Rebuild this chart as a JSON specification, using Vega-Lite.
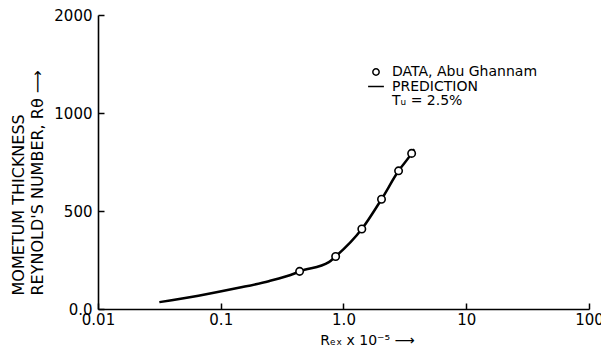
{
  "$schema": "https://vega.github.io/schema/vega-lite/v6.json",
  "width": 491,
  "height": 294,
  "autosize": {"type": "none"},
  "padding": {"left": 98, "top": 15, "right": 12, "bottom": 40},
  "background": "white",
  "config": {
    "view": {"stroke": null},
    "font": "DejaVu Sans",
    "axis": {
      "grid": false,
      "domainColor": "black",
      "domainWidth": 1.6,
      "ticks": true,
      "tickColor": "black",
      "tickWidth": 1.5,
      "labelColor": "black",
      "titleColor": "black",
      "titleFontWeight": "normal",
      "labelFontSize": 15,
      "titleFontSize": 15,
      "labelFlush": false,
      "labelOverlap": false
    },
    "legend": {"labelColor": "black"}
  },
  "datasets": {
    "obs": [
      {"rex": 0.439, "rtheta": 192, "series": "DATA, Abu Ghannam"},
      {"rex": 0.863, "rtheta": 268, "series": "DATA, Abu Ghannam"},
      {"rex": 1.41, "rtheta": 408, "series": "DATA, Abu Ghannam"},
      {"rex": 2.04, "rtheta": 560, "series": "DATA, Abu Ghannam"},
      {"rex": 2.81, "rtheta": 705, "series": "DATA, Abu Ghannam"},
      {"rex": 3.59, "rtheta": 794, "series": "DATA, Abu Ghannam"}
    ],
    "pred": [
      {"rex": 0.0316, "rtheta": 35},
      {"rex": 0.0658, "rtheta": 68},
      {"rex": 0.14, "rtheta": 108},
      {"rex": 0.246, "rtheta": 142},
      {"rex": 0.394, "rtheta": 180},
      {"rex": 0.439, "rtheta": 192},
      {"rex": 0.76, "rtheta": 239},
      {"rex": 0.863, "rtheta": 268},
      {"rex": 1.41, "rtheta": 408},
      {"rex": 2.04, "rtheta": 560},
      {"rex": 2.81, "rtheta": 705},
      {"rex": 3.59, "rtheta": 794},
      {"rex": 3.77, "rtheta": 815}
    ]
  },
  "encoding": {
    "x": {
      "field": "rex",
      "type": "quantitative",
      "scale": {"type": "log", "domain": [0.01, 100], "nice": false},
      "axis": {
        "values": [0.01, 0.1, 1, 10, 100],
        "labelExpr": "datum.value < 0.05 ? '0.01' : datum.value < 0.5 ? '0.1' : datum.value < 5 ? '1.0' : datum.value < 50 ? '10' : '100'",
        "title": "Rₑₓ x 10⁻⁵ ⟶",
        "titleFontSize": 14,
        "tickSize": -6,
        "labelPadding": 9.5,
        "titleX": 269,
        "titleY": 31,
        "titleAlign": "center",
        "titleBaseline": "middle"
      }
    },
    "y": {
      "field": "rtheta",
      "type": "quantitative",
      "scale": {"domain": [0, 1000, 2000], "range": [294, 98, 0], "nice": false, "zero": false},
      "axis": {
        "values": [0, 500, 1000, 2000],
        "labelExpr": "datum.value == 0 ? '0.0' : format(datum.value, 'd')",
        "tickSize": -6,
        "labelPadding": 12,
        "labelBaseline": "middle",
        "title": ["MOMETUM THICKNESS", "REYNOLD'S NUMBER, Rθ ⟶"],
        "titleAngle": 270,
        "titleAlign": "left",
        "titleBaseline": "middle",
        "titleLineHeight": 19,
        "titleFontSize": 16,
        "titleX": -79.5,
        "titleY": 280
      }
    }
  },
  "layer": [
    {
      "data": {"name": "pred"},
      "mark": {"type": "line", "color": "black", "strokeWidth": 2.5, "interpolate": "monotone"}
    },
    {
      "data": {"name": "obs"},
      "mark": {"type": "point", "filled": true, "fill": "white", "stroke": "black", "strokeWidth": 1.6, "size": 55, "opacity": 1},
      "encoding": {
        "shape": {
          "field": "series",
          "type": "nominal",
          "scale": {"domain": ["DATA, Abu Ghannam", "PREDICTION", "Tᵤ = 2.5%"], "range": ["circle", "M-2.5,0H2.5", "M0,0"]},
          "legend": {
            "orient": "none",
            "legendX": 271,
            "legendY": 50,
            "title": null,
            "padding": 0,
            "labelFontSize": 14,
            "labelOffset": 9,
            "labelLimit": 300,
            "rowPadding": 0.5,
            "symbolSize": 40,
            "encode": {
              "symbols": {
                "update": {
                  "size": {"value": 40},
                  "stroke": {"value": "black"},
                  "fill": {"value": "white"},
                  "opacity": {"value": 1},
                  "strokeOpacity": {"value": 1},
                  "strokeWidth": {"signal": "datum.value === 'PREDICTION' ? 2.5 : 1.6"}
                }
              }
            }
          }
        }
      }
    }
  ]
}
